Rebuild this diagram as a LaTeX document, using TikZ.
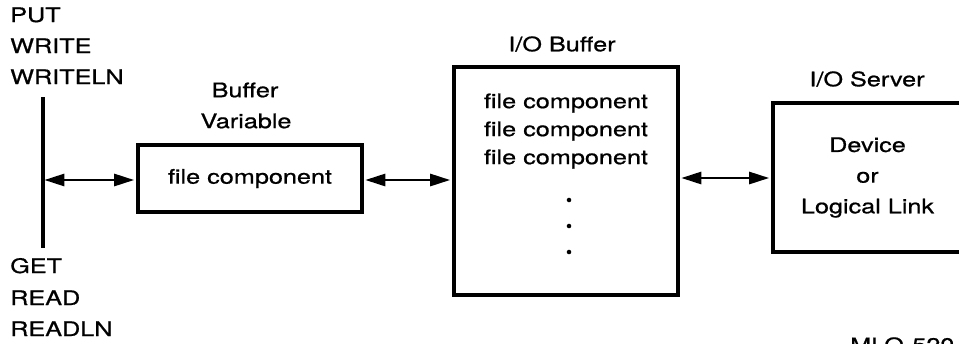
\documentclass[tikz,border=0pt]{standalone}
\usepackage{fontspec}
\setmainfont[FakeStretch=1.26, FakeBold=0.8]{TeX Gyre Heros}
\usetikzlibrary{arrows.meta}
\tikzset{
  lbl/.style={inner sep=0pt, font=\fontsize{15pt}{23pt}\selectfont},
  box/.style={draw, line width=2.9pt, inner sep=0pt},
  biarrow/.style={line width=2pt, {Triangle[length=15pt,width=9pt]}-{Triangle[length=15pt,width=9pt]}, shorten <=1pt, shorten >=1.4pt},
}
\begin{document}
\begin{tikzpicture}[x=0.75pt, y=-0.75pt]
\useasboundingbox (0,0) rectangle (959,343);
\clip (0,0) rectangle (959,343);

% calls that move data in and out
\node[lbl, anchor=base west] (put) at (10,22) {PUT};
\node[lbl, anchor=base west] (write) at (10,53) {WRITE};
\node[lbl, anchor=base west] (writeln) at (10,84) {WRITELN};
\node[lbl, anchor=base west] (get) at (10,273) {GET};
\node[lbl, anchor=base west] (read) at (10,305) {READ};
\node[lbl, anchor=base west] (readln) at (10,336) {READLN};

% program bus
\coordinate (bustop) at (43,97);
\coordinate (busbot) at (43,248);
\coordinate (bus) at (43,180);
\draw[line width=2.6pt] (bustop) -- (busbot);

% buffer variable
\node[box, minimum width=224*0.75pt, minimum height=67*0.75pt, lbl] (bv) at (250,178.5) {file component};
\node[lbl] (bvt1) at (245,90) {Buffer};
\node[lbl] (bvt2) at (246,121) {Variable};

% I/O buffer
\node[box, minimum width=224*0.75pt, minimum height=228*0.75pt] (iob) at (566,181) {};
\node[lbl] (iobt) at (562,44) {I/O Buffer};
\node[lbl] (fc1) at (566,103) {file component};
\node[lbl] (fc2) at (566,131) {file component};
\node[lbl] (fc3) at (566,159) {file component};
\fill (569,200) circle (1.7pt) (569,226) circle (1.7pt) (569,252) circle (1.7pt);

% I/O server
\node[box, minimum width=189*0.75pt, minimum height=149*0.75pt, lbl, align=center] (srv) at (867.5,177.5) {Device\\or\\Logical Link};
\node[lbl] (srvt) at (867,79) {I/O Server};

% transfers
\draw[biarrow] (bus) -- (bv.west |- bus);
\draw[biarrow] (bv.east |- bus) -- (iob.west |- bus);
\draw[biarrow] (iob.east |- 0,178) -- (srv.west |- 0,178);

% figure number
\node[lbl, anchor=north west] (fig) at (850,337) {MLO-520-85};
\end{tikzpicture}
\end{document}
